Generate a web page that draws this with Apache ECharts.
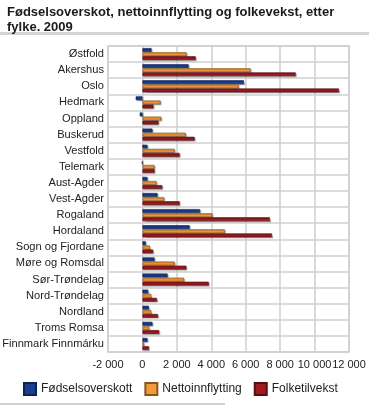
<!DOCTYPE html>
<html>
<head>
<meta charset="utf-8">
<script src="https://cdn.jsdelivr.net/npm/echarts@6/dist/echarts.min.js"></script>
<style>
html,body{margin:0;padding:0;background:#fff;}
#c{width:369px;height:409px;}
</style>
</head>
<body>
<div id="c"></div>
<script>
var categories = ["Østfold","Akershus","Oslo","Hedmark","Oppland","Buskerud","Vestfold","Telemark","Aust-Agder","Vest-Agder","Rogaland","Hordaland","Sogn og Fjordane","Møre og Romsdal","Sør-Trøndelag","Nord-Trøndelag","Nordland","Troms Romsa","Finnmark Finnmárku"];
var fodselsoverskott = [525,2680,5890,-390,-155,580,290,-20,290,875,3345,2740,195,700,1460,330,370,580,290];
var nettoinnflytting = [2565,6280,5580,1050,1090,2510,1865,700,815,1260,4060,4780,430,1865,2410,505,505,390,80];
var folketilvekst = [3090,8900,11410,640,930,3030,2160,700,1150,2160,7400,7520,620,2550,3850,835,895,970,370];
var seriesNames = ["Fødselsoverskott","Nettoinnflytting","Folketilvekst"];
var xTicks = {min:-2000, max:12000, interval:2000};

var colors = ["#1a3f8f","#f39a3c","#9c1a20"];
var borders = ["#0d2358","#8a5620","#5a0e12"];
function fmt(v){
  var s = Math.abs(v).toString().replace(/\B(?=(\d{3})+(?!\d))/g, " ");
  return (v<0?"-":"") + s;
}
var data = [fodselsoverskott, nettoinnflytting, folketilvekst];
var chart = echarts.init(document.getElementById('c'));
var font = "Liberation Sans, Arial, sans-serif";
chart.setOption({
  animation:false,
  title:{
    text:"Fødselsoverskot, nettoinnflytting og folkevekst, etter\nfylke. 2009",
    left:2, top:0,
    textStyle:{fontFamily:font, fontWeight:"bold", fontSize:13, color:"#1a1a1a", lineHeight:15}
  },
  graphic:[
    {type:"rect", shape:{x:0,y:32,width:369,height:3}, style:{fill:"#d4d4d4"}},
    {type:"rect", shape:{x:0,y:403,width:225,height:2}, style:{fill:"#d0d0d0"}}
  ],
  legend:{
    top:377, left:18,
    itemWidth:12, itemGap:12, itemHeight:12,
    icon:"rect",
    textStyle:{fontFamily:font, fontSize:12, color:"#222"},
    data:seriesNames
  },
  grid:{left:108, right:20, top:46, bottom:57, show:true, borderColor:"#cfcfcf", borderWidth:1.5,
        containLabel:false, outerBoundsMode:"none"},
  xAxis:{
    type:"value", min:xTicks.min, max:xTicks.max, interval:xTicks.interval,
    axisLine:{show:false}, axisTick:{show:false},
    axisLabel:{formatter:fmt, fontFamily:font, fontSize:11, color:"#222", margin:7, hideOverlap:false, showMaxLabel:true},
    splitLine:{show:true, lineStyle:{color:"#cfcfcf", width:1.5}}
  },
  yAxis:{
    type:"category", data:categories, inverse:true,
    axisLine:{show:false}, axisTick:{show:false},
    axisLabel:{fontFamily:font, fontSize:11.1, color:"#222", margin:4},
    splitLine:{show:true, lineStyle:{color:"#cfcfcf", width:1.5}}
  },
  series: seriesNames.map(function(n,i){
    return {
      name:n, type:"bar", data:data[i],
      barWidth:3.8, barGap:"8%",
      itemStyle:{color:colors[i], borderColor:borders[i], borderWidth:0.6,
        shadowColor:"rgba(0,0,0,0.35)", shadowOffsetX:1, shadowOffsetY:1, shadowBlur:1}
    };
  })
});
</script>
</body>
</html>
